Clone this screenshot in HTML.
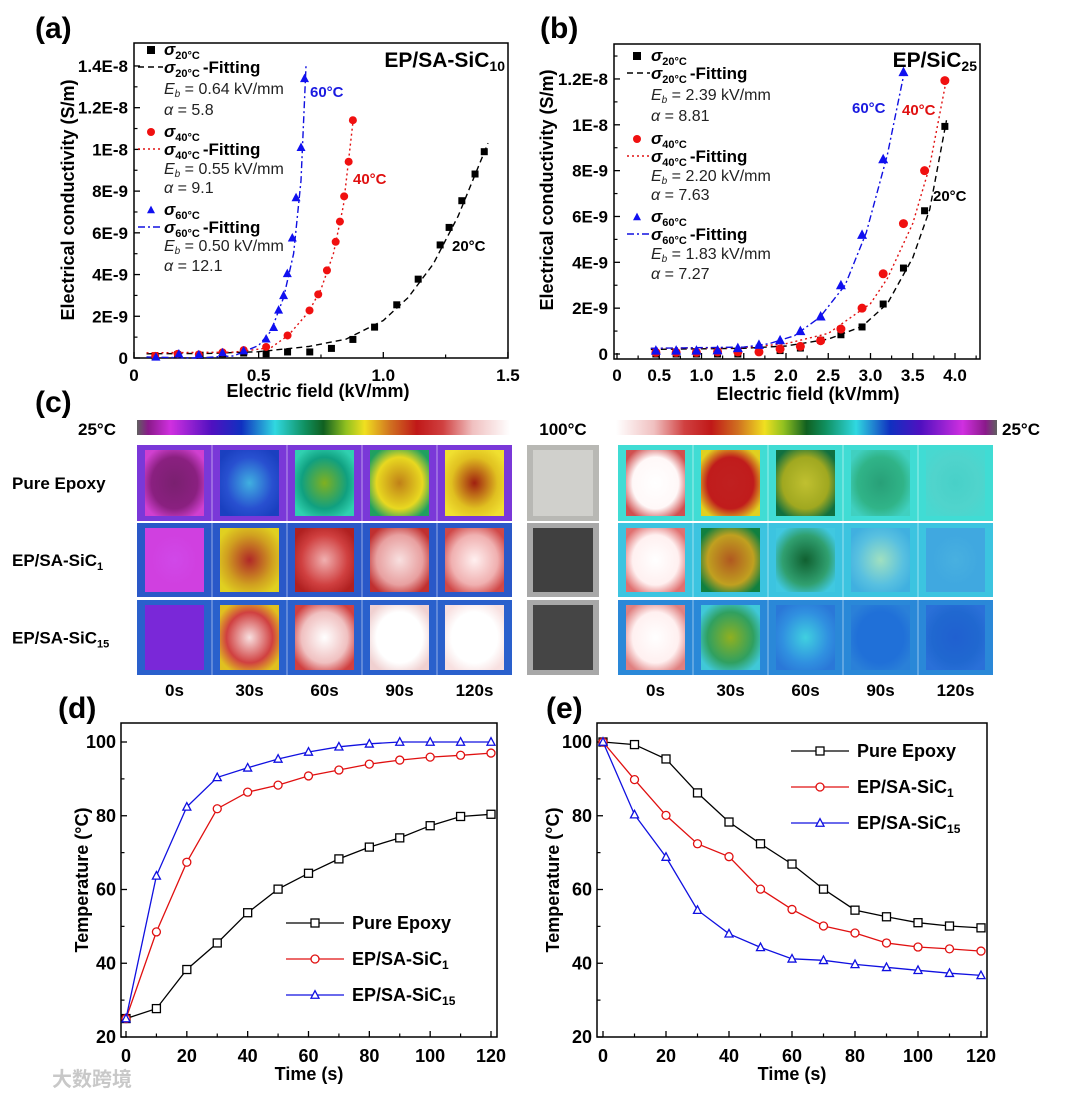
<!DOCTYPE html>
<html><head><meta charset="utf-8"><style>
html,body{margin:0;padding:0;background:#fff;}
svg{display:block;font-family:"Liberation Sans","Noto Sans CJK SC",sans-serif;}
</style></head><body>
<svg id="fig" width="1080" height="1096" viewBox="0 0 1080 1096" xmlns="http://www.w3.org/2000/svg">
<defs id="defs">
<linearGradient id="cbL" x1="0" x2="1" y1="0" y2="0">
<stop offset="0" stop-color="#606060"/><stop offset="0.03" stop-color="#8a1a8a"/><stop offset="0.09" stop-color="#d030e0"/><stop offset="0.2" stop-color="#5010c0"/><stop offset="0.28" stop-color="#1030c0"/><stop offset="0.37" stop-color="#30d8e0"/><stop offset="0.45" stop-color="#109060"/><stop offset="0.5" stop-color="#106020"/><stop offset="0.56" stop-color="#90c020"/><stop offset="0.61" stop-color="#f0e020"/><stop offset="0.68" stop-color="#d07020"/><stop offset="0.75" stop-color="#c01818"/><stop offset="0.82" stop-color="#d04040"/><stop offset="0.9" stop-color="#f0c0c0"/><stop offset="1" stop-color="#ffffff"/>
</linearGradient>
<linearGradient id="cbR" x1="1" x2="0" y1="0" y2="0">
<stop offset="0" stop-color="#606060"/><stop offset="0.03" stop-color="#8a1a8a"/><stop offset="0.09" stop-color="#d030e0"/><stop offset="0.2" stop-color="#5010c0"/><stop offset="0.28" stop-color="#1030c0"/><stop offset="0.37" stop-color="#30d8e0"/><stop offset="0.45" stop-color="#109060"/><stop offset="0.5" stop-color="#106020"/><stop offset="0.56" stop-color="#90c020"/><stop offset="0.61" stop-color="#f0e020"/><stop offset="0.68" stop-color="#d07020"/><stop offset="0.75" stop-color="#c01818"/><stop offset="0.82" stop-color="#d04040"/><stop offset="0.9" stop-color="#f0c0c0"/><stop offset="1" stop-color="#ffffff"/>
</linearGradient>
</defs>
</svg>
<script>
// ---------- data ----------
const aX20=[0.085,0.175,0.265,0.355,0.44,0.53,0.616,0.705,0.792,0.878,0.965,1.054,1.14,1.228,1.264,1.315,1.368,1.405];
const aY20=[0.05,0.16,0.13,0.2,0.24,0.2,0.29,0.29,0.46,0.89,1.48,2.55,3.78,5.42,6.26,7.54,8.82,9.89];
const aX40=[0.085,0.175,0.26,0.355,0.44,0.53,0.616,0.704,0.739,0.774,0.809,0.826,0.843,0.861,0.878];
const aY40=[0.1,0.2,0.17,0.27,0.38,0.53,1.08,2.28,3.05,4.2,5.57,6.54,7.75,9.41,11.4];
const aX60=[0.088,0.18,0.26,0.355,0.44,0.53,0.56,0.58,0.6,0.615,0.635,0.65,0.67,0.684];
const aY60=[0.05,0.2,0.16,0.26,0.35,0.92,1.47,2.3,3.0,4.05,5.76,7.69,10.1,13.4];
const aFX20=[0.05,0.3,0.5,0.7,0.85,1.0,1.1,1.2,1.3,1.42];
const aFY20=[0.2,0.22,0.3,0.55,0.9,1.8,2.9,4.5,6.8,10.3];
const aFX40=[0.05,0.4,0.55,0.62,0.7,0.75,0.8,0.84,0.88];
const aFY40=[0.25,0.28,0.5,1.1,2.2,3.3,5.0,7.3,11.5];
const aFX60=[0.05,0.25,0.4,0.5,0.55,0.6,0.64,0.67,0.69];
const aFY60=[0.05,0.0,0.1,0.6,1.3,2.9,5.0,8.5,14.0];

const bX=[0.46,0.70,0.94,1.19,1.43,1.68,1.93,2.17,2.41,2.65,2.9,3.15,3.39];
const bY60=[0.15,0.15,0.15,0.16,0.26,0.4,0.6,1.0,1.64,3.0,5.2,8.5,12.3];
const bX2=[0.46,0.70,0.94,1.19,1.43,1.68,1.93,2.17,2.41,2.65,2.9,3.15,3.39,3.64,3.88];
const bY40=[0.07,0.07,0.07,0.09,0.09,0.09,0.22,0.33,0.58,1.09,2.0,3.5,5.69,8.0,11.93];
const bY20=[0,0,0,0,0,0.12,0.15,0.26,0.6,0.84,1.18,2.18,3.75,6.25,9.93];
const bFX20=[0.4,1.5,2.0,2.5,2.9,3.2,3.5,3.7,3.9];
const bFY20=[0.2,0.25,0.35,0.65,1.2,2.2,4.2,6.3,10.2];
const bFX40=[0.4,1.5,2.0,2.5,3.0,3.2,3.5,3.7,3.9];
const bFY40=[0.25,0.28,0.45,0.9,2.2,3.3,5.7,8.2,12.0];
const bFX60=[0.4,1.5,1.8,2.1,2.4,2.7,2.95,3.2,3.4];
const bFY60=[0.25,0.3,0.45,0.8,1.6,3.0,5.3,8.7,12.3];

const times=[0,10,20,30,40,50,60,70,80,90,100,110,120];
const dPure=[25,27.7,38.3,45.5,53.7,60.1,64.4,68.3,71.5,74,77.3,79.8,80.4];
const dSiC1=[25,48.5,67.4,81.9,86.4,88.3,90.8,92.4,94,95.1,95.9,96.4,97];
const dSiC15=[25,63.7,82.4,90.4,93,95.4,97.3,98.7,99.5,100,100,100,100];
const ePure=[100,99.3,95.4,86.2,78.3,72.4,66.9,60.1,54.4,52.6,51,50.1,49.6];
const eSiC1=[100,89.8,80.1,72.4,68.9,60.1,54.6,50.1,48.2,45.5,44.4,43.9,43.3];
const eSiC15=[100,80.3,68.8,54.4,48,44.3,41.2,40.8,39.7,38.9,38.1,37.3,36.7];

const aYTicks=[0,2,4,6,8,10,12,14];
const aYLabels=["0","2E-9","4E-9","6E-9","8E-9","1E-8","1.2E-8","1.4E-8"];
const aXTicks=[0,0.5,1.0,1.5];
const aXLabels=["0","0.5","1.0","1.5"];
const bYTicks=[0,2,4,6,8,10,12];
const bYLabels=["0","2E-9","4E-9","6E-9","8E-9","1E-8","1.2E-8"];
const bXTicks=[0,0.5,1,1.5,2,2.5,3,3.5,4];
const bXLabels=["0","0.5","1.0","1.5","2.0","2.5","3.0","3.5","4.0"];
const tYTicks=[20,40,60,80,100];
const tXTicks=[0,20,40,60,80,100,120];

// ---------- helpers ----------
const NS="http://www.w3.org/2000/svg";
const svg=document.getElementById('fig');
const defs=document.getElementById('defs');
function mk(tag,attrs,parent){const e=document.createElementNS(NS,tag);for(const k in attrs)e.setAttribute(k,attrs[k]);(parent||svg).appendChild(e);return e;}
function txt(x,y,s,size,anchor,fill,parent,extra){const e=mk('text',Object.assign({x:x,y:y,'font-size':size,'font-weight':'bold','text-anchor':anchor||'start',fill:fill||'#000'},extra||{}),parent);e.textContent=s;return e;}

const sA={x:v=>134+v*249.3,y:v=>358-v*20.86};
const sB={x:v=>617+v*84.5,y:v=>354-v*22.92};
const sD={x:v=>126+v*(365/120),y:v=>1037-(v-20)*(295/80)};
const sE={x:v=>603+v*(378/120),y:v=>1037-(v-20)*(295/80)};

function frame(g,x0,y0,x1,y1){
  const r=mk('rect',{x:x0,y:y0,width:x1-x0,height:y1-y0,fill:'none',stroke:'#000','stroke-width':1.5},g);
  
  
}
function yAxis(g,s,ticks,labels,minors,xL,xR,lx,fs){
  ticks.forEach((v,i)=>{
    const t=mk('line',{x1:xL,x2:xL+6,y1:s.y(v),y2:s.y(v),stroke:'#000','stroke-width':1.3},g);
    
    
    const l=txt(lx,s.y(v)+6,labels[i],fs,'end','#000',g);
    
    
  });
  minors.forEach(v=>{
    const t=mk('line',{x1:xL,x2:xL+3.5,y1:s.y(v),y2:s.y(v),stroke:'#000','stroke-width':1.2},g);
    
    
  });
}
function xAxis(g,s,ticks,labels,minors,yB,ly,fs){
  ticks.forEach((v,i)=>{
    const t=mk('line',{x1:s.x(v),x2:s.x(v),y1:yB,y2:yB-6,stroke:'#000','stroke-width':1.3},g);
    
    
    const l=txt(s.x(v),ly,labels[i],fs,'middle','#000',g);
    
    
  });
  minors.forEach(v=>{
    const t=mk('line',{x1:s.x(v),x2:s.x(v),y1:yB,y2:yB-3.5,stroke:'#000','stroke-width':1.2},g);
    
    
  });
}
function marker(g,type,x,y,col,size,open){
  let e;
  const fill=open?'#fff':col, sw=open?1.3:0;
  if(type==='sq') e=mk('rect',{x:x-size/2,y:y-size/2,width:size,height:size,fill:fill,stroke:col,'stroke-width':sw},g);
  else if(type==='ci') e=mk('circle',{cx:x,cy:y,r:size/2,fill:fill,stroke:col,'stroke-width':sw},g);
  else { const h=size*0.9; e=mk('polygon',{points:`${x},${y-h*0.6} ${x-size/2},${y+h*0.45} ${x+size/2},${y+h*0.45}`,fill:fill,stroke:col,'stroke-width':sw},g);}
  return e;
}
function poly(g,s,xs,ys,col,dash,w){
  const pts=xs.map((v,i)=>s.x(v).toFixed(1)+','+s.y(ys[i]).toFixed(1)).join(' ');
  return mk('polyline',{points:pts,fill:'none',stroke:col,'stroke-width':w||1.4,'stroke-dasharray':dash||'none'},g);
}
function sigma(g,x,y,sub,fill,suffix){
  const t=mk('text',{x:x,y:y,'font-size':17,'font-weight':'bold',fill:fill||'#000'},g);
  const a=mk('tspan',{'font-style':'italic'},t);a.textContent='σ';
  const b=mk('tspan',{'font-size':11,dy:4},t);b.textContent=sub;
  if(suffix){const c=mk('tspan',{dy:-4,dx:3},t);c.textContent=suffix;}
  return t;
}
function ebLine(g,x,y,val){
  const t=mk('text',{x:x,y:y,'font-size':16,fill:'#222'},g);
  const a=mk('tspan',{'font-style':'italic'},t);a.textContent='E';
  const b=mk('tspan',{'font-size':10,dy:3,'font-style':'italic'},t);b.textContent='b';
  const c=mk('tspan',{dy:-3},t);c.textContent=' = '+val+' kV/mm';
  return t;
}
function alphaLine(g,x,y,val){
  const t=mk('text',{x:x,y:y,'font-size':16,fill:'#222'},g);
  const a=mk('tspan',{'font-style':'italic'},t);a.textContent='α';
  const c=mk('tspan',{},t);c.textContent=' = '+val;
  return t;
}
function rotTitle(g,x,y,s,fs){const t=txt(x,y,s,fs,'middle','#000',g,{transform:`rotate(-90 ${x} ${y})`});return t;}

// ---------- panel labels ----------
[['(a)',35,38],['(b)',540,38],['(c)',35,412],['(d)',58,718],['(e)',546,718]].forEach(p=>{
  const t=txt(p[1],p[2],p[0],30,'start','#000');
  
  
});

// ---------- panel a ----------
const gA=mk('g',{});


frame(gA,134,43,508,358);
yAxis(gA,sA,aYTicks,aYLabels,[1,3,5,7,9,11,13],134,508,128,17);
xAxis(gA,sA,aXTicks,aXLabels,[0.25,0.75,1.25],358,381,17);
let t;
t=rotTitle(gA,74,200,'Electrical conductivity (S/m)',18);


t=txt(318,397,'Electric field (kV/mm)',18,'middle','#000',gA);


let ln=poly(gA,sA,aFX20,aFY20,'#000','6,4');


ln=poly(gA,sA,aFX40,aFY40,'#e01010','2,3');


ln=poly(gA,sA,aFX60,aFY60,'#1010e0','7,3,2,3');


aX20.forEach((v,i)=>{const m=marker(gA,'sq',sA.x(v),sA.y(aY20[i]),'#000',7);
  
  });
aX40.forEach((v,i)=>{const m=marker(gA,'ci',sA.x(v),sA.y(aY40[i]),'#f01010',8);
  
  });
aX60.forEach((v,i)=>{const m=marker(gA,'tr',sA.x(v),sA.y(aY60[i]),'#1010f0',9);
  
  });
t=txt(310,97,'60°C',15,'start','#1a1ae0',gA);


t=txt(353,184,'40°C',15,'start','#e01010',gA);


t=txt(452,251,'20°C',15,'start','#000',gA);


t=mk('text',{x:505,y:67,'font-size':21,'font-weight':'bold','text-anchor':'end'},gA);
t.appendChild(document.createTextNode('EP/SA-SiC'));
let sb=mk('tspan',{'font-size':14,dy:4},t);sb.textContent='10';


// legend a
const lgA=mk('g',{},gA);


const legA=[[55,73,94,115,'sq','#000','20°C','0.64','5.8','6,4','#000'],[137,155,174,193,'ci','#f01010','40°C','0.55','9.1','2,3','#e01010'],[215,233,251,271,'tr','#1010f0','60°C','0.50','12.1','7,3,2,3','#1010e0']];
legA.forEach(r=>{
  const m=marker(lgA,r[4],151,r[0]-5,r[5],8);
  
  
  const s1=sigma(lgA,164,r[0],r[6]);
  
  
  const l=mk('line',{x1:138,x2:163,y1:r[1]-6,y2:r[1]-6,stroke:r[10],'stroke-width':1.4,'stroke-dasharray':r[9]},lgA);
  
  
  const s2=sigma(lgA,164,r[1],r[6],'#000','-Fitting');
  
  
  const e=ebLine(lgA,164,r[2],r[7]);
  
  
  const a=alphaLine(lgA,164,r[3],r[8]);
  
  
});

// ---------- panel b ----------
const gB=mk('g',{});


frame(gB,614,44,980,359);
yAxis(gB,sB,bYTicks,bYLabels,[1,3,5,7,9,11,13],614,980,608,17);
xAxis(gB,sB,bXTicks,bXLabels,[0.25,0.75,1.25,1.75,2.25,2.75,3.25,3.75,4.25],359,381,17);
t=rotTitle(gB,553,190,'Electrical conductivity (S/m)',18);


t=txt(808,400,'Electric field (kV/mm)',18,'middle','#000',gB);


ln=poly(gB,sB,bFX20,bFY20,'#000','6,4');


ln=poly(gB,sB,bFX40,bFY40,'#e01010','2,3');


ln=poly(gB,sB,bFX60,bFY60,'#1010e0','7,3,2,3');


bX2.forEach((v,i)=>{const m=marker(gB,'sq',sB.x(v),sB.y(bY20[i]),'#000',7);
  
  });
bX2.forEach((v,i)=>{const m=marker(gB,'ci',sB.x(v),sB.y(bY40[i]),'#f01010',9);
  
  });
bX.forEach((v,i)=>{const m=marker(gB,'tr',sB.x(v),sB.y(bY60[i]),'#1010f0',10);
  
  });
t=txt(852,113,'60°C',15,'start','#1a1ae0',gB);


t=txt(902,115,'40°C',15,'start','#e01010',gB);


t=txt(933,201,'20°C',15,'start','#000',gB);


t=mk('text',{x:977,y:67,'font-size':21,'font-weight':'bold','text-anchor':'end'},gB);
t.appendChild(document.createTextNode('EP/SiC'));
sb=mk('tspan',{'font-size':14,dy:4},t);sb.textContent='25';


const lgB=mk('g',{},gB);


const legB=[[61,79,100,121,'sq','#000','20°C','2.39','8.81','6,4','#000'],[144,162,181,200,'ci','#f01010','40°C','2.20','7.63','2,3','#e01010'],[222,240,259,279,'tr','#1010f0','60°C','1.83','7.27','7,3,2,3','#1010e0']];
legB.forEach(r=>{
  const m=marker(lgB,r[4],637,r[0]-5,r[5],8);
  
  
  const s1=sigma(lgB,651,r[0],r[6]);
  
  
  const l=mk('line',{x1:627,x2:650,y1:r[1]-6,y2:r[1]-6,stroke:r[10],'stroke-width':1.4,'stroke-dasharray':r[9]},lgB);
  
  
  const s2=sigma(lgB,651,r[1],r[6],'#000','-Fitting');
  
  
  const e=ebLine(lgB,651,r[2],r[7]);
  
  
  const a=alphaLine(lgB,651,r[3],r[8]);
  
  
});

// ---------- panel c (thermal images) ----------
const gC=mk('g',{});


let cb=mk('rect',{x:137,y:420,width:373,height:15,fill:'url(#cbL)'},gC);


cb=mk('rect',{x:616,y:420,width:381,height:15,fill:'url(#cbR)'},gC);


t=txt(78,435,'25°C',17,'start','#000',gC);


t=txt(563,435,'100°C',17,'middle','#000',gC);


t=txt(1002,435,'25°C',17,'start','#000',gC);


const rowsY=[[445,521],[523,597],[600,675]];
[['Pure Epoxy',''],['EP/SA-SiC','1'],['EP/SA-SiC','15']].forEach((r,i)=>{
  const tt=mk('text',{x:12,y:(rowsY[i][0]+rowsY[i][1])/2+6,'font-size':17,'font-weight':'bold'},gC);
  tt.appendChild(document.createTextNode(r[0]));
  if(r[1]){const s=mk('tspan',{'font-size':11,dy:4},tt);s.textContent=r[1];}
  
  
});
const leftBg=['#7a38d8','#2a58c8','#2a60cc'];
const rightBg=['#40dcd4','#3cc4e0','#2a88d8'];
const leftCells=[
 [['#8a2080','#7a2070','#d040d0'],['#2850d0','#40b0e0','#1a40c0'],['#10a080','#80b020','#30d0b0'],['#e8d820','#c08018','#20a060'],['#e0c020','#a02010','#f0e030']],
 [['#d040e0','#d048e8','#d040e0'],['#d0a020','#b02828','#e0d020'],['#d04040','#f0b0b0','#b02020'],['#e8a0a0','#f8e0e0','#c03030'],['#f0b0b0','#fff0f0','#d04848']],
 [['#7a28d8','#7a28d8','#7a28d8'],['#d04040','#f8e0e0','#e0c020'],['#f0c0c0','#ffffff','#d04040'],['#ffffff','#ffffff','#f0d0d0'],['#ffffff','#ffffff','#f8e0e0']]];
const rightCells=[
 [['#fff8f8','#ffffff','#d05050'],['#c01c1c','#c02020','#e0d020'],['#a0a820','#c0c030','#107040'],['#30b488','#28a078','#40d0c0'],['#50d4cc','#48d0c8','#48d8d0']],
 [['#fff0f0','#ffffff','#e07070'],['#c0a020','#b05820','#108040'],['#30a070','#106030','#40c8e0'],['#58c0e0','#a0e0c0','#40b0e0'],['#40a8e0','#48b0e0','#40a8e0']],
 [['#fff0f0','#ffffff','#e08080'],['#30a060','#90b020','#40c8d8'],['#3090e0','#40d0e0','#2a78d8'],['#2070d8','#2070d8','#2a80d8'],['#2068d0','#2060d0','#2a70d8']]];
let gid=0;
function cells(x0,bgs,data){
  data.forEach((row,ri)=>{
    const y0=rowsY[ri][0],y1=rowsY[ri][1],h=y1-y0;
    const bg=mk('rect',{x:x0,y:y0,width:375,height:h,fill:bgs[ri]},gC);
    
    
    row.forEach((c,ci)=>{
      const cx=x0+ci*75;
      gid++;
      const rg=mk('radialGradient',{id:'rg'+gid,cx:'0.5',cy:'0.5',r:'0.6'},defs);
      mk('stop',{offset:'0','stop-color':c[1]},rg);
      mk('stop',{offset:'0.65','stop-color':c[0]},rg);
      mk('stop',{offset:'1','stop-color':c[2]},rg);
      const s=mk('rect',{x:cx+8,y:y0+5,width:59,height:h-10,fill:'url(#rg'+gid+')'},gC);
      
      
      if(ci>0){const d=mk('line',{x1:cx,x2:cx,y1:y0,y2:y1,stroke:'#ffffff','stroke-opacity':0.5,'stroke-width':1},gC);
        
        }
    });
  });
}
cells(137,leftBg,leftCells);
cells(618,rightBg,rightCells);
const photos=[['#b8b8b4','#d0d0cc'],['#a8a8a8','#404040'],['#a8a8a8','#454545']];
photos.forEach((p,ri)=>{
  const y0=rowsY[ri][0],y1=rowsY[ri][1];
  const a=mk('rect',{x:527,y:y0,width:72,height:y1-y0,fill:p[0]},gC);
  
  
  const b=mk('rect',{x:533,y:y0+5,width:60,height:y1-y0-10,fill:p[1]},gC);
  
  
});
const timeLabels=['0s','30s','60s','90s','120s'];
timeLabels.forEach((s,i)=>{
  let l=txt(137+75*i+37.5,696,s,17,'middle','#000',gC);
  
  
  l=txt(618+75*i+37.5,696,s,17,'middle','#000',gC);
  
  
});

// ---------- panels d & e ----------
function tempPanel(name,s,fr,series,legX,legY,ytitleX){
  const g=mk('g',{});
  
  
  frame(g,fr[0],fr[1],fr[2],fr[3]);
  yAxis(g,s,tYTicks,tYTicks.map(String),[30,50,70,90],fr[0],fr[2],fr[0]-5,18);
  xAxis(g,s,tXTicks,tXTicks.map(String),[10,30,50,70,90,110],fr[3],fr[3]+25,18);
  let tt=rotTitle(g,ytitleX,880,'Temperature (°C)',18);
  
  
  tt=txt((fr[0]+fr[2])/2,1080,'Time (s)',18,'middle','#000',g);
  
  
  series.forEach((se,k)=>{
    const l=poly(g,s,times,se.v,se.c,null,1.3);
    
    
    times.forEach((x,i)=>{const m=marker(g,se.m,s.x(x),s.y(se.v[i]),se.c,8,true);
      
      });
    const y=legY+k*36;
    const ll=mk('line',{x1:legX,x2:legX+58,y1:y-6,y2:y-6,stroke:se.c,'stroke-width':1.3},g);
    
    
    const mm=marker(g,se.m,legX+29,y-6,se.c,8,true);
    
    
    const lt=mk('text',{x:legX+66,y:y,'font-size':18,'font-weight':'bold'},g);
    lt.appendChild(document.createTextNode(se.lab));
    if(se.sub){const sp=mk('tspan',{'font-size':12,dy:4},lt);sp.textContent=se.sub;}
    
    
  });
}
tempPanel('panel-d-heating-chart',sD,[121,723,497,1037],[
 {key:'pure-epoxy',v:dPure,c:'#000',m:'sq',lab:'Pure Epoxy'},
 {key:'sic1',v:dSiC1,c:'#e01010',m:'ci',lab:'EP/SA-SiC',sub:'1'},
 {key:'sic15',v:dSiC15,c:'#1010e0',m:'tr',lab:'EP/SA-SiC',sub:'15'}],286,929,88);
tempPanel('panel-e-cooling-chart',sE,[597,723,987,1037],[
 {key:'pure-epoxy',v:ePure,c:'#000',m:'sq',lab:'Pure Epoxy'},
 {key:'sic1',v:eSiC1,c:'#e01010',m:'ci',lab:'EP/SA-SiC',sub:'1'},
 {key:'sic15',v:eSiC15,c:'#1010e0',m:'tr',lab:'EP/SA-SiC',sub:'15'}],791,757,559);

// watermark
t=txt(52,1086,'大数跨境',20,'start','#c8c8c8');


</script>
</body></html>
